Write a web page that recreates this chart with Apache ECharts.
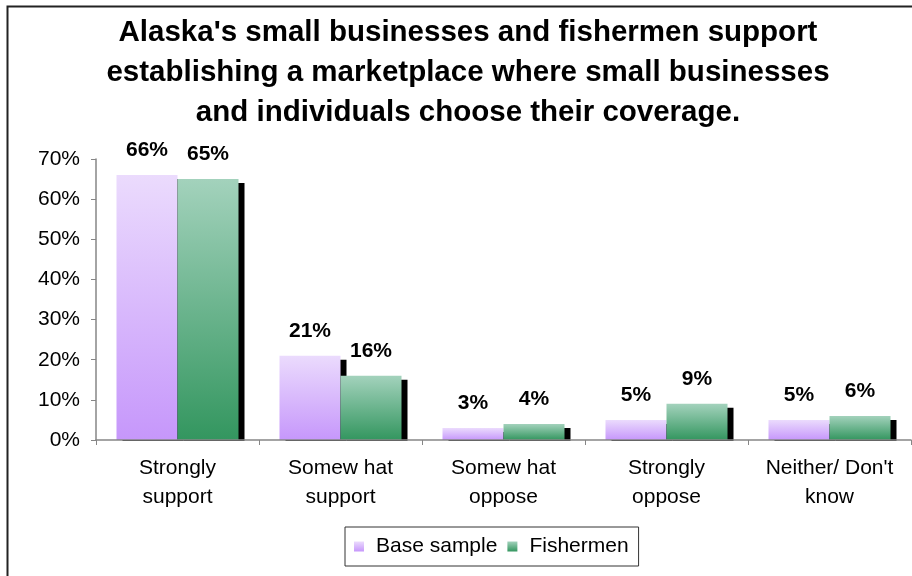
<!DOCTYPE html>
<html>
<head>
<meta charset="utf-8">
<title>Alaska marketplace support</title>
<script src="https://cdn.jsdelivr.net/npm/echarts@6/dist/echarts.min.js"></script>
<style>
  html, body { margin: 0; padding: 0; background: #fff; }
  #chart { width: 912px; height: 576px; }
</style>
</head>
<body>
<div id="chart"></div>
<script>
// Survey answers on establishing a coverage marketplace
const categories = ['Strongly\nsupport', 'Somew hat\nsupport', 'Somew hat\noppose', 'Strongly\noppose', "Neither/ Don't\nknow"];
const baseSample = [66, 21, 3, 5, 5];
const fishermen = [65, 16, 4, 9, 6];
const seriesNames = ['Base sample', 'Fishermen'];
const yMin = 0, yMax = 70, yStep = 10;

const FONT = "'Liberation Sans', Arial, Helvetica, sans-serif";

function vGrad(top, bottom) {
  return new echarts.graphic.LinearGradient(0, 0, 0, 1, [
    { offset: 0, color: top },
    { offset: 1, color: bottom }
  ]);
}

// Bars cast a hard black drop shadow to the lower right
const barStyle = (top, bottom) => ({
  color: vGrad(top, bottom),
  shadowColor: '#000',
  shadowBlur: 0,
  shadowOffsetX: 6,
  shadowOffsetY: 4
});

const valueLabel = {
  show: true,
  position: 'top',
  distance: 14,
  formatter: '{c}%',
  color: '#000',
  fontFamily: FONT,
  fontWeight: 'bold',
  fontSize: 21
};

const chart = echarts.init(document.getElementById('chart'), null, { renderer: 'canvas' });

const GRID = { left: 96, right: 1, top: 159, bottom: 136 };

chart.setOption({
  backgroundColor: '#fff',
  animation: false,
  title: {
    text: "Alaska's small businesses and fishermen support\nestablishing a marketplace where small businesses\nand individuals choose their coverage.",
    left: 468,
    top: 13,
    textAlign: 'center',
    padding: 0,
    textStyle: {
      fontFamily: FONT,
      fontWeight: 'bold',
      fontSize: 29.5,
      lineHeight: 40,
      color: '#000'
    }
  },
  graphic: [
    {
      // outer frame
      type: 'rect',
      shape: { x: 7.5, y: 6.5, width: 1000, height: 1000 },
      style: { fill: 'none', stroke: '#222', lineWidth: 2 },
      silent: true,
      z: -1
    },
    {
      // keeps the drop shadows from spilling under the category axis
      type: 'rect',
      shape: { x: GRID.left + 1, y: 441, width: 912 - GRID.left, height: 5 },
      style: { fill: '#fff' },
      silent: true,
      z: 3
    }
  ],
  legend: {
    data: seriesNames,
    left: 345,
    top: 527,
    padding: [9, 10, 9, 9],
    borderColor: '#333',
    borderWidth: 1,
    itemWidth: 10,
    itemHeight: 10,
    itemGap: 10,
    icon: 'rect',
    textStyle: {
      fontFamily: FONT,
      fontSize: 21,
      color: '#000',
      padding: [0, 0, 0, 7]
    }
  },
  grid: {
    left: GRID.left,
    right: GRID.right,
    top: GRID.top,
    bottom: GRID.bottom,
    containLabel: false
  },
  xAxis: {
    type: 'category',
    data: categories,
    z: 5,
    axisLine: { lineStyle: { color: '#868686', width: 1.5 } },
    axisTick: { show: true, length: 5, alignWithLabel: false, lineStyle: { color: '#868686' } },
    axisLabel: {
      interval: 0,
      margin: 14,
      color: '#000',
      fontFamily: FONT,
      fontSize: 21,
      lineHeight: 29
    }
  },
  yAxis: {
    type: 'value',
    min: yMin,
    max: yMax,
    interval: yStep,
    splitLine: { show: false },
    axisLine: { show: true, lineStyle: { color: '#868686', width: 1.5 } },
    axisTick: { show: true, length: 5, lineStyle: { color: '#868686' } },
    axisLabel: {
      formatter: '{value}%',
      margin: 16,
      color: '#000',
      fontFamily: FONT,
      fontSize: 21
    }
  },
  series: [
    {
      name: seriesNames[0],
      type: 'bar',
      data: baseSample,
      barWidth: 61,
      barGap: '0%',
      itemStyle: barStyle('#EBDBFD', '#C697FB'),
      label: valueLabel
    },
    {
      name: seriesNames[1],
      type: 'bar',
      data: fishermen,
      barWidth: 61,
      barGap: '0%',
      itemStyle: barStyle('#A3D2BC', '#33965F'),
      label: valueLabel
    }
  ]
});
</script>
</body>
</html>
